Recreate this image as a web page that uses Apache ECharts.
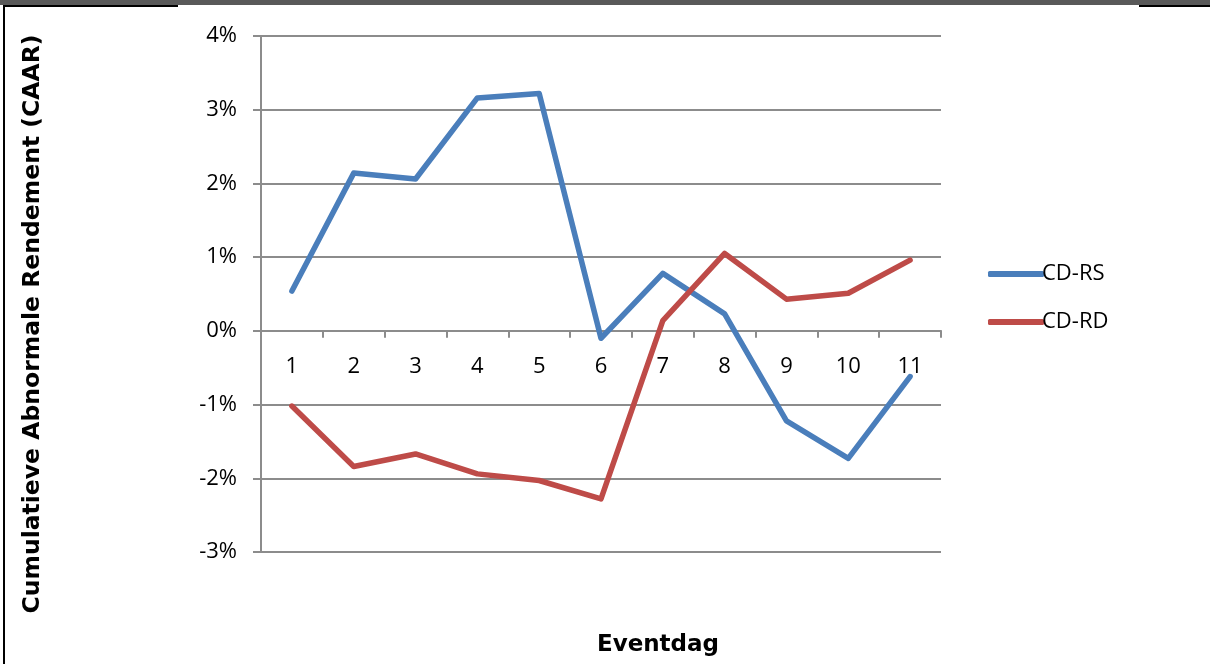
<!DOCTYPE html>
<html>
<head>
<meta charset="utf-8">
<script src="https://cdn.jsdelivr.net/npm/echarts@6/dist/echarts.min.js"></script>
<style>
html,body{margin:0;padding:0;background:#fff;}
#chart{width:1210px;height:664px;}
</style>
</head>
<body>
<div id="chart"></div>
<script>
var categories = ['1','2','3','4','5','6','7','8','9','10','11'];
var cdRS = [0.54, 2.14, 2.06, 3.16, 3.22, -0.10, 0.78, 0.23, -1.22, -1.73, -0.62];
var cdRD = [-1.02, -1.84, -1.67, -1.94, -2.03, -2.28, 0.14, 1.05, 0.43, 0.51, 0.96];
var seriesNames = ['CD-RS', 'CD-RD'];
var yTitle = 'Cumulatieve Abnormale Rendement (CAAR)';
var xTitle = 'Eventdag';

var chart = echarts.init(document.getElementById('chart'));
var labelFont = {fontFamily: 'Open Sans', fontSize: 22, color: '#000'};
var gridColor = '#8c8c8c';
var gridTop = 36, gridBottom = 112, plotH = 664 - gridTop - gridBottom;
var yMin = -3, yMax = 4;
// distance from bottom of grid up to the zero line
var zeroOffset = plotH * (0 - yMin) / (yMax - yMin);
chart.setOption({
  animation: false,
  backgroundColor: '#fff',
  grid: {left: 261, right: 269, top: gridTop, bottom: gridBottom, containLabel: false},
  legend: {
    orient: 'vertical',
    left: 983, top: 258,
    itemWidth: 56, itemHeight: 6, itemGap: 26,
    icon: 'roundRect',
    textStyle: {fontFamily: 'Open Sans', fontSize: 22, color: '#000', lineHeight: 22, padding: [0,0,0,-7]},
    data: seriesNames
  },
  xAxis: {
    type: 'category',
    data: categories,
    boundaryGap: true,
    offset: -zeroOffset,
    axisLine: {onZero: false, lineStyle: {color: gridColor, width: 2}},
    axisTick: {show: true, length: 7, lineStyle: {color: gridColor, width: 2}},
    axisLabel: Object.assign({margin: 25}, labelFont),
    splitLine: {show: false}
  },
  yAxis: {
    type: 'value',
    min: yMin, max: yMax, interval: 1,
    axisLine: {show: true, lineStyle: {color: gridColor, width: 2}},
    axisTick: {show: true, length: 8, inside: false, lineStyle: {color: gridColor, width: 2}},
    axisLabel: Object.assign({margin: 24, formatter: '{value}%'}, labelFont),
    splitLine: {show: true, lineStyle: {color: gridColor, width: 2}}
  },
  series: [
    {name: seriesNames[0], type: 'line', data: cdRS, symbol: 'none', showSymbol: false,
     itemStyle: {color: '#4a7ebb'},
     lineStyle: {color: '#4a7ebb', width: 5.5, cap: 'round', join: 'round'}},
    {name: seriesNames[1], type: 'line', data: cdRD, symbol: 'none', showSymbol: false,
     itemStyle: {color: '#be4b48'},
     lineStyle: {color: '#be4b48', width: 5.5, cap: 'round', join: 'round'}}
  ],
  graphic: [
    {type: 'rect', left: 0, top: 0, shape: {width: 1210, height: 5}, style: {fill: '#595959'}, silent: true},
    {type: 'rect', left: 3, top: 5, shape: {width: 175, height: 2}, style: {fill: '#000'}, silent: true},
    {type: 'rect', left: 1139, top: 5, shape: {width: 71, height: 2}, style: {fill: '#000'}, silent: true},
    {type: 'rect', left: 3, top: 5, shape: {width: 2, height: 659}, style: {fill: '#000'}, silent: true},
    {type: 'text', x: 33, y: 324, rotation: Math.PI/2,
     style: {text: yTitle, fontFamily: 'DejaVu Sans', fontWeight: 'bold', fontSize: 23.5, fill: '#000',
             align: 'center', verticalAlign: 'middle'}},
    {type: 'text', x: 658, y: 645,
     style: {text: xTitle, fontFamily: 'DejaVu Sans', fontWeight: 'bold', fontSize: 23, fill: '#000',
             align: 'center', verticalAlign: 'middle'}}
  ]
});
</script>
</body>
</html>
